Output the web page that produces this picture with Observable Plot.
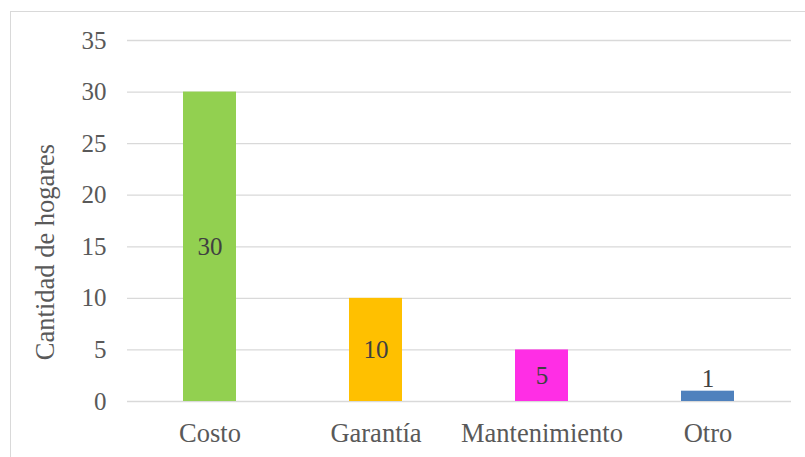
<!DOCTYPE html>
<html>
<head>
<meta charset="utf-8">
<script src="https://cdn.jsdelivr.net/npm/d3@7"></script>
<script src="https://cdn.jsdelivr.net/npm/@observablehq/plot@0.6"></script>
<style>
  html, body { margin: 0; padding: 0; background: #fff; }
  #wrap { position: relative; width: 805px; height: 457px; overflow: hidden; }
  #border { position: absolute; left: 10px; top: 11px; width: 820px; height: 470px; border: 1px solid #d9d9d9; box-sizing: border-box; }
  #chart { position: absolute; left: 0; top: 0; }
</style>
</head>
<body>
<div id="wrap"><div id="border"></div><div id="chart"></div></div>
<script>
const categories = ["Costo", "Garantía", "Mantenimiento", "Otro"];
const values = [30, 10, 5, 1];
const colors = ["#92D050", "#FFC000", "#FF2EE5", "#4F81BD"];
const yTicks = [0, 5, 10, 15, 20, 25, 30, 35];
const yTitle = "Cantidad de hogares";

const data = categories.map((c, i) => ({category: c, value: values[i], color: colors[i]}));
const inside = data.filter(d => d.value >= 5);
const above = data.filter(d => d.value < 5);

const FONT = "Liberation Serif";

const chart = Plot.plot({
  width: 805,
  height: 457,
  marginLeft: 127,
  marginRight: 14,
  marginTop: 40,
  marginBottom: 56,
  style: {fontFamily: FONT, fontSize: "25px", color: "#595959", background: "transparent"},
  x: {domain: categories, paddingInner: 0.68, paddingOuter: 0.34, label: null},
  y: {domain: [0, 35], ticks: yTicks, label: null},
  marks: [
    Plot.gridY(yTicks, {stroke: "#d9d9d9", strokeOpacity: 1, strokeWidth: 1.3}),
    Plot.axisY(yTicks, {tickSize: 0, tickPadding: 21, fontSize: 25, fill: "#595959"}),
    Plot.axisX({tickSize: 0, tickPadding: 22, fontSize: 26.5, fill: "#595959"}),
    Plot.barY(data, {x: "category", y: "value", fill: "color"}),
    Plot.text(inside, {x: "category", y: d => d.value / 2, text: d => String(d.value), fontSize: 25, fill: "#404040"}),
    Plot.text(above, {x: "category", y: "value", text: d => String(d.value), fontSize: 25, fill: "#404040", lineAnchor: "bottom", dy: -4}),
    Plot.text([yTitle], {frameAnchor: "left", textAnchor: "middle", text: d => d, rotate: -90, dx: -82, dy: 31, fontSize: 26.5, fill: "#595959"})
  ]
});
d3.select(chart).selectAll("text").attr("font-family", FONT);
document.getElementById("chart").appendChild(chart);
</script>
</body>
</html>
